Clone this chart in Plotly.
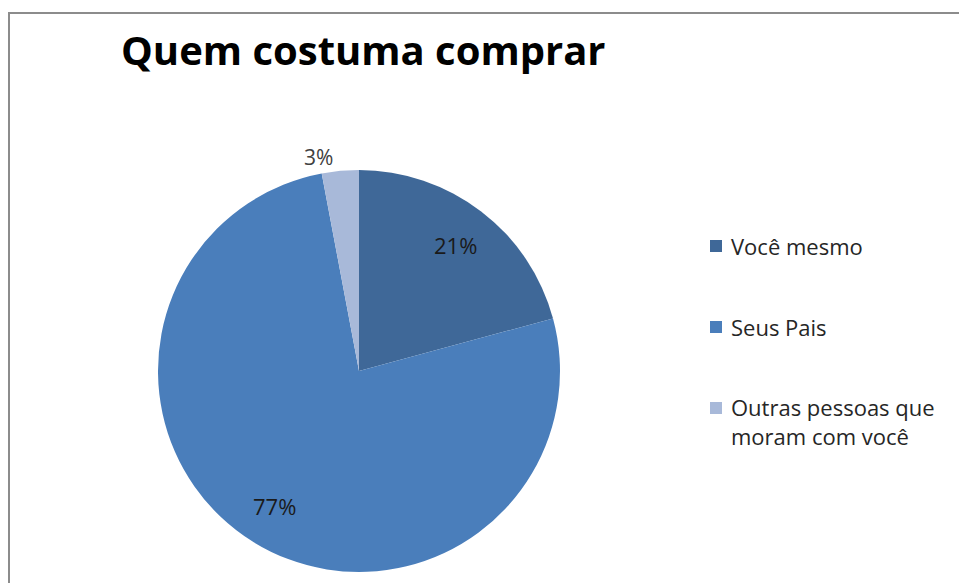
import math
import plotly.graph_objects as go

# Who usually does the shopping
labels = ["Você mesmo", "Seus Pais", "Outras pessoas que moram com você"]
legend_text = ["Você mesmo", "Seus Pais", "Outras pessoas que<br>moram com você"]
values = [21, 77, 3]
colors = ["#3F6898", "#4A7EBB", "#A8B9D9"]
label_inside = [True, True, False]

W, H = 959, 583
FONT = "'Open Sans', Lato, sans-serif"

# pie geometry in pixels
CX, CY, R = 359, 371, 201


def px(x):
    return x / W


def py(y):
    return 1 - y / H


pct_text = [f"{v}%" for v in values]

fig = go.Figure(
    go.Pie(
        labels=labels,
        values=values,
        sort=False,
        direction="clockwise",
        rotation=0,
        marker=dict(colors=colors, line=dict(width=0)),
        text=[t if not ins else "" for t, ins in zip(pct_text, label_inside)],
        textinfo="text",
        textposition="outside",
        outsidetextfont=dict(family=FONT, size=21, color="#404040"),
        showlegend=False,
        hoverinfo="label+percent",
        domain=dict(x=[px(CX - R), px(CX + R)], y=[py(CY + R), py(CY - R)]),
    )
)

# inside percentage labels, placed at 80% of the radius along each slice's mid-angle
total = sum(values)
start = 0.0
for v, t, ins in zip(values, pct_text, label_inside):
    mid = (start + v / 2) / total * 2 * math.pi
    start += v
    if not ins:
        continue
    r = 0.79 * R
    fig.add_annotation(
        xref="paper", yref="paper",
        x=px(CX + r * math.sin(mid)), y=py(CY - r * math.cos(mid)),
        text=t, showarrow=False, xanchor="center", yanchor="middle",
        font=dict(family=FONT, size=22, color="#1A1A1A"),
    )

# chart frame (top and left edges visible)
fig.add_shape(
    type="rect", xref="paper", yref="paper",
    x0=px(9), x1=1.05, y0=-0.05, y1=py(13),
    line=dict(color="#8C8C8C", width=2),
)

# legend drawn as swatches with text
leg_y = [246, 327, 421]
for name, col, y in zip(legend_text, colors, leg_y):
    sy = y if "<br>" not in name else y - 13
    fig.add_shape(
        type="rect", xref="paper", yref="paper",
        x0=px(710), x1=px(722), y0=py(sy + 6), y1=py(sy - 6),
        fillcolor=col, line=dict(width=0),
    )
    fig.add_annotation(
        xref="paper", yref="paper", x=px(729), y=py(y),
        text=name, showarrow=False, xanchor="left", yanchor="middle",
        align="left", font=dict(family=FONT, size=22, color="#262626"),
    )

fig.update_layout(
    width=W, height=H,
    margin=dict(l=0, r=0, t=0, b=0),
    paper_bgcolor="white",
    plot_bgcolor="white",
    title=dict(
        text="<b>Quem costuma comprar</b>",
        x=px(121), xanchor="left", y=py(51), yanchor="middle",
        font=dict(family=FONT, size=40, color="#000000"),
    ),
)

fig.write_html("out.html")
